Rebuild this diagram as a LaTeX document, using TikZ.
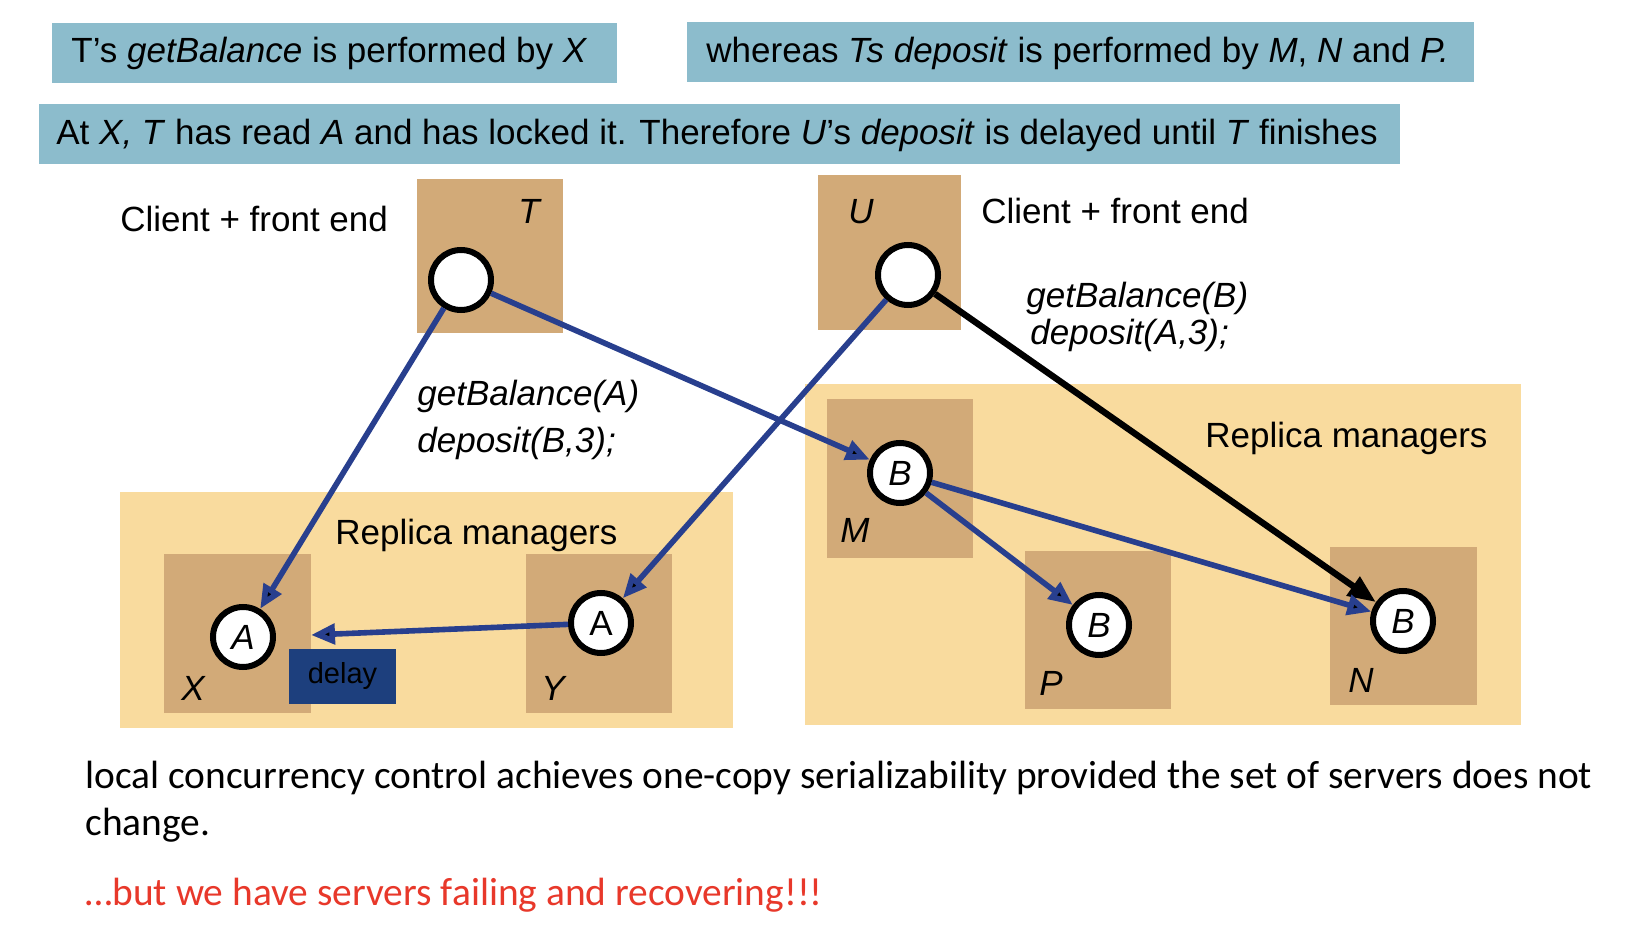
\documentclass[tikz,border=0pt]{standalone}
\usepackage{fontspec}
\setmainfont{Liberation Sans}
\newfontfamily\calib{Carlito}
\usetikzlibrary{arrows.meta}
\definecolor{lblue}{RGB}{140,188,204}
\definecolor{boxtan}{RGB}{210,170,120}
\definecolor{lyel}{RGB}{249,219,158}
\definecolor{arrblue}{RGB}{40,63,142}
\definecolor{delayblue}{RGB}{29,63,125}
\definecolor{warnred}{RGB}{232,56,42}
\begin{document}
\begin{tikzpicture}[x=0.5pt,y=-0.5pt,
  obj/.style={circle,draw=black,fill=white,line width=3pt,minimum size=30pt,inner sep=0pt,font=\fontsize{17.5}{19}\selectfont},
  txt/.style={anchor=base west,inner sep=0pt,font=\fontsize{17.5}{21}\selectfont},
  lbl/.style={anchor=base west,inner sep=0pt,font=\fontsize{17.5}{20}\selectfont\itshape},
  nm/.style={anchor=base west,inner sep=0pt,font=\fontsize{17.5}{21}\selectfont\itshape},
  bottomtxt/.style={anchor=base west,inner sep=0pt,font=\calib\fontsize{19.7}{23}\selectfont},
  bluearrow/.style={draw=arrblue,line width=2.8pt,-{Triangle[length=12pt,width=10pt,fill=black]}},
  blackarrow/.style={draw=black,line width=3.2pt,-{Triangle[length=14pt,width=11pt]}},
]
\useasboundingbox (0,0) rectangle (1634,946);
\fill[white] (0,0) rectangle (1634,946);
% top banners
\fill[lblue] (52,23) rectangle (617,83);
\node[txt] (t1) at (71,63) {T’s \textit{getBalance} is performed by \textit{X}};
\fill[lblue] (687,22) rectangle (1474,82);
\node[txt] (t2) at (706,63) {whereas \textit{Ts deposit} is performed by \textit{M}, \textit{N} and \textit{P.}};
\fill[lblue] (39,104) rectangle (1400,164);
\node[txt] (t3) at (56,145) {At \textit{X, T} has read \textit{A} and has locked it. Therefore \textit{U}’s \textit{deposit} is delayed until \textit{T} finishes};
% client boxes
\fill[boxtan] (417,179) rectangle (563,333);
\fill[boxtan] (818,175) rectangle (961,330);
\node[txt] (c1) at (120,232) {Client + front end};
\node[txt] (c2) at (981,224) {Client + front end};
\node[nm] (lT) at (518,224) {T};
\node[nm] (lU) at (848,224) {U};
% replica areas
\fill[lyel] (120,492) rectangle (733,728);
\fill[lyel] (805,384) rectangle (1521,725);
\fill[boxtan] (164,554) rectangle (311,713);
\fill[boxtan] (526,554) rectangle (672,713);
\fill[boxtan] (827,399) rectangle (973,558);
\fill[boxtan] (1025,551) rectangle (1171,709);
\fill[boxtan] (1330,547) rectangle (1477,705);
\node[txt] (r1) at (335,545) {Replica managers};
\node[txt] (r2) at (1205,448) {Replica managers};
\node[nm] (lX) at (181,700) {X};
\node[nm] (lY) at (541,700) {Y};
\node[nm] (lM) at (840,543) {M};
\node[nm] (lP) at (1039,695) {P};
\node[nm] (lN) at (1348,692) {N};
% delay box
\fill[delayblue] (289,649) rectangle (396,704);
\node[inner sep=0pt,font=\fontsize{14.5}{16}\selectfont] (dl) at (342.5,676.5) {delay};
% operation labels
\node[lbl] (g1) at (417,406) {getBalance(A)};
\node[lbl] (d1) at (417,453) {deposit(B,3);};
\node[lbl] (g2) at (1026,308) {getBalance(B)};
\node[lbl] (d2) at (1030,345) {deposit(A,3);};
% objects
\node[obj] (tc) at (461,280) {};
\node[obj] (uc) at (908,275) {};
\node[obj] (xc) at (243,637) {\textit{A}};
\node[obj] (yc) at (601,623) {A};
\node[obj] (mc) at (900,473) {\textit{B}};
\node[obj] (pc) at (1099,625) {\textit{B}};
\node[obj] (nc) at (1403,621) {\textit{B}};
% connectors
\coordinate (dtip) at (311,635);
\draw[bluearrow] (tc) -- (xc);
\draw[bluearrow] (tc) -- (mc);
\draw[bluearrow] (uc) -- (yc);
\draw[blackarrow] (uc) -- (nc);
\draw[bluearrow] (mc) -- (pc);
\draw[bluearrow] (mc) -- (nc);
\draw[bluearrow] (yc) -- (dtip);
% bottom text
\node[bottomtxt] (b1) at (85,788) {local concurrency control achieves one-copy serializability provided the set of servers does not};
\node[bottomtxt] (b2) at (85,835) {change.};
\node[bottomtxt,text=warnred] (b3) at (85,905) {…but we have servers failing and recovering!!!};
\end{tikzpicture}
\end{document}
